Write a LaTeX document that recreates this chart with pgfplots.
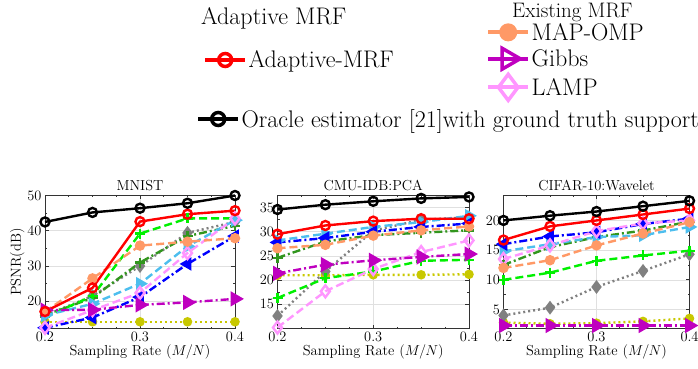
\documentclass[border=0pt]{standalone}
\usepackage{pgfplots}
\usepackage{pgfplotstable}
\pgfplotsset{compat=1.18}
\definecolor{cpeach}{RGB}{255,153,102}
\definecolor{cmag}{RGB}{191,0,191}
\definecolor{cpink}{RGB}{255,150,255}
\definecolor{cbgreen}{RGB}{0,240,0}
\definecolor{cdgreen}{RGB}{50,150,30}
\definecolor{cgray}{RGB}{128,128,128}
\definecolor{cblue}{RGB}{0,0,255}
\definecolor{clblue}{RGB}{77,190,238}
\definecolor{cyellow}{RGB}{200,200,0}

\pgfplotstableread{
x oracle adap mapomp gibbs lamp bgreen dgreen gray blue lblue yellow
0.20 42.5 17.1 17.0 17.5 12.5 15.5 16.0 16.0 12.5 16.0 14.2
0.25 45.2 23.8 26.5 17.6 17.5 21.5 21.0 21.5 15.4 19.3 14.2
0.30 46.4 42.6 35.8 19.0 22.4 39.2 31.0 30.0 21.2 25.0 14.2
0.35 47.8 44.7 36.9 19.7 33.7 43.5 38.5 39.4 30.6 35.6 14.2
0.40 50.0 45.7 37.9 20.7 43.5 43.5 41.4 42.5 38.5 43.0 14.2
}\mnist
\pgfplotstableread{
x oracle adap mapomp gibbs lamp bgreen dgreen gray blue lblue yellow
0.20 34.6 29.5 26.6 21.4 10.2 16.3 24.6 12.6 27.8 28.2 21.0
0.25 35.6 31.3 27.3 23.2 17.7 20.4 28.0 21.8 28.7 29.6 21.0
0.30 36.3 32.2 29.2 24.1 22.3 21.8 29.3 30.2 30.0 31.0 21.1
0.35 36.9 32.7 30.3 24.8 25.8 24.0 29.8 32.5 31.0 32.0 21.1
0.40 37.2 32.7 31.1 25.4 28.2 24.2 30.3 33.0 31.7 33.3 21.2
}\cmu
\pgfplotstableread{
x oracle adap mapomp gibbs lamp bgreen dgreen gray blue lblue yellow
0.20 20.0 16.7 12.0 2.3 13.5 10.0 12.5 4.0 16.0 14.8 2.8
0.25 20.8 19.0 13.3 2.3 15.8 11.2 15.5 5.3 17.3 16.0 2.6
0.30 21.5 20.0 15.8 2.3 18.2 13.2 17.2 8.8 18.0 17.2 2.7
0.35 22.4 21.0 17.8 2.3 19.5 14.1 18.3 11.5 19.4 17.5 3.0
0.40 23.3 22.0 19.7 2.3 20.0 14.9 19.8 14.3 20.3 18.9 3.5
}\cifar

\pgfplotsset{
  sdash/.style={dash pattern=on 8pt off 4pt},
  sdashdot/.style={dash pattern=on 8pt off 3pt on 2pt off 3pt},
  sdot/.style={dash pattern=on 2pt off 3pt},
  pyellow/.style={cyellow, sdot, mark=*, mark size=3.5pt, mark options={solid}},
  pgray/.style={cgray, sdot, mark=diamond*, mark size=5pt, mark options={solid}},
  pdgreen/.style={cdgreen, sdashdot, mark=+, mark size=5pt, mark options={solid}},
  pbgreen/.style={cbgreen, sdash, mark=+, mark size=5pt, mark options={solid}},
  plblue/.style={clblue, sdash, mark=triangle*, mark size=5.5pt, mark options={solid, rotate=-90}},
  pblue/.style={cblue, sdashdot, mark=triangle*, mark size=5.5pt, mark options={solid, rotate=90}},
  plamp/.style={cpink, sdash, mark=diamond, mark size=6pt, mark options={solid}},
  pgibbs/.style={cmag, sdashdot, mark=triangle*, mark size=6.5pt, mark options={solid, rotate=-90}},
  pmap/.style={cpeach, sdash, mark=*, mark size=4pt, mark options={solid}},
  padap/.style={red, solid, mark=o, mark size=4.5pt},
  poracle/.style={black, solid, mark=o, mark size=4.5pt},
  chart/.style={
    scale only axis, height=133pt,
    xmin=0.2, xmax=0.4, xtick={0.2,0.3,0.4},
    xticklabel style={/pgf/number format/fixed, /pgf/number format/fixed zerofill, /pgf/number format/precision=1},
    minor x tick num=3, minor y tick num=1,
    grid=major, major grid style={black!12, line width=0.6pt},
    axis line style={black!80, line width=0.9pt},
    tick style={black!80, line width=0.7pt},
    major tick length=4pt, minor tick length=2pt,
    tick align=inside, clip=false,
    font=\fontsize{14.5}{16}\selectfont,
    ticklabel style={font=\fontsize{14.5}{16}\selectfont},
    title style={yshift=-5pt},
    xlabel style={yshift=3pt},
    xlabel={Sampling Rate $(M/N)$},
    every axis plot/.append style={line width=2.4pt},
  },
  legax/.style={
    at={(0pt,0pt)}, anchor=south west, hide axis, scale only axis,
    width=698pt, height=369pt, xmin=0, xmax=698, ymin=0, ymax=369,
    legend cell align=left,
    legend style={draw=none, fill=none, inner sep=0pt, row sep=5pt,
      font=\fontsize{24}{26}\selectfont, nodes={inner sep=1.5pt}},
    legend image code/.code={\draw[##1, mark repeat=2, mark phase=2] plot coordinates {(0pt,0pt) (20pt,0pt) (40pt,0pt)};},
  },
}

\newcommand{\allplots}[1]{%
  \addplot[pyellow] table[x=x, y=yellow] {#1};
  \addplot[pgray] table[x=x, y=gray] {#1};
  \addplot[pdgreen] table[x=x, y=dgreen] {#1};
  \addplot[pbgreen] table[x=x, y=bgreen] {#1};
  \addplot[plblue] table[x=x, y=lblue] {#1};
  \addplot[pblue] table[x=x, y=blue] {#1};
  \addplot[plamp] table[x=x, y=lamp] {#1};
  \addplot[pgibbs] table[x=x, y=gibbs] {#1};
  \addplot[pmap] table[x=x, y=mapomp] {#1};
  \addplot[padap] table[x=x, y=adap] {#1};
  \addplot[poracle] table[x=x, y=oracle] {#1};
}

\begin{document}
\begin{tikzpicture}
\path[use as bounding box] (0pt,0pt) rectangle (698pt,369pt);

\begin{axis}[chart, at={(45pt,40.5pt)}, anchor=south west, width=190pt,
  ymin=12.3, ymax=50, ytick={20,30,40,50}, title={MNIST}, ylabel={PSNR(dB)},
  ylabel style={yshift=-4pt}]
\allplots{\mnist}
\end{axis}

\begin{axis}[chart, at={(277.5pt,40.5pt)}, anchor=south west, width=191.5pt,
  ymin=10, ymax=37.5, ytick={15,20,25,30,35}, title={CMU-IDB:PCA}]
\allplots{\cmu}
\end{axis}

\begin{axis}[chart, at={(503.5pt,40.5pt)}, anchor=south west, width=186pt,
  ymin=1.8, ymax=24.2, ytick={5,10,15,20}, title={CIFAR-10:Wavelet}]
\allplots{\cifar}
\end{axis}

% legend: Adaptive MRF group
\begin{axis}[legax, legend style={at={(203/698,309/369)}, anchor=west}]
\addlegendimage{red, line width=4pt, mark=o, mark size=6.5pt, mark options={solid, line width=3.5pt}}
\addlegendentry{Adaptive-MRF}
\node[anchor=west, font=\fontsize{24}{26}\selectfont, inner sep=0pt] at (axis cs:201,351) {Adaptive MRF};
\node[anchor=west, font=\fontsize{21}{23}\selectfont, inner sep=0pt] at (axis cs:512,357) {Existing MRF};
\end{axis}

% legend: Existing MRF group
\begin{axis}[legax, legend style={at={(486/698,308/369)}, anchor=west}]
\addlegendimage{cpeach, line width=4pt, mark=*, mark size=7pt, mark options={solid}}
\addlegendentry{MAP-OMP}
\addlegendimage{cmag, line width=4pt, mark=triangle, mark size=12pt, mark options={solid, rotate=-90, line width=3.5pt}}
\addlegendentry{Gibbs}
\addlegendimage{cpink, line width=4pt, mark=diamond, mark size=13pt, mark options={solid, line width=3.5pt}}
\addlegendentry{LAMP}
\end{axis}

% legend: Oracle
\begin{axis}[legax, legend style={at={(196/698,250/369)}, anchor=west}]
\addlegendimage{black, line width=4pt, mark=o, mark size=6.5pt, mark options={solid, line width=3.5pt}}
\addlegendentry{Oracle estimator [21]with ground truth support}
\end{axis}
\end{tikzpicture}
\end{document}
